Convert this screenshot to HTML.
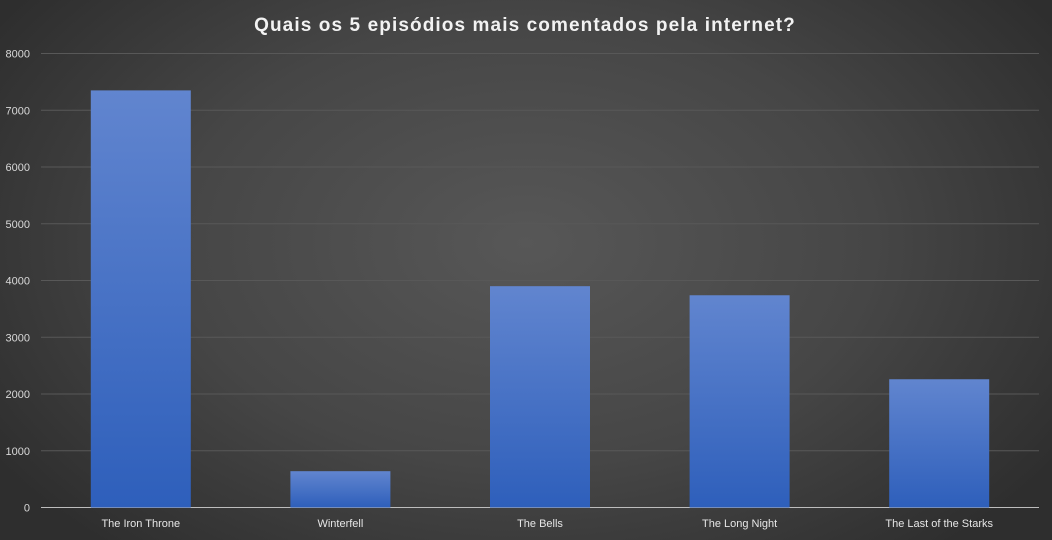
<!DOCTYPE html>
<html><head><meta charset="utf-8"><style>
html,body{margin:0;padding:0;background:#3a3a3a;}
#chart{width:1052px;height:540px;position:relative;overflow:hidden;
background:radial-gradient(ellipse 60% 75% at 50% 45%,#575757 0%,#464646 55%,#2e2e2e 100%);
font-family:"Liberation Sans",sans-serif;}
</style></head><body>
<div id="chart">
<svg id="svg" width="1052" height="540">
<defs><linearGradient id="bg" x1="0" y1="0" x2="0" y2="1">
<stop offset="0" stop-color="#6185cf"/><stop offset="1" stop-color="#2e5fbb"/></linearGradient></defs>
<text x="525" y="31" text-anchor="middle" fill="#f2f2f2" font-size="19" font-weight="bold" letter-spacing="1.1">Quais os 5 episódios mais comentados pela internet?</text>
<g id="grid"></g><g id="bars"></g><g id="labels"></g>
</svg></div>
<script>
const categories=["The Iron Throne","Winterfell","The Bells","The Long Night","The Last of the Starks"];
const values=[7350,640,3900,3740,2260];
const ticks=[0,1000,2000,3000,4000,5000,6000,7000,8000];
const ns="http://www.w3.org/2000/svg";
const L=41,R=1039,Y0=507.5,Y8=53.5,maxV=8000;
const y=v=>Y0-(Y0-Y8)*v/maxV;
const bw=(R-L)/categories.length;
const x=i=>L+bw*i;
function mk(t,a,p){const e=document.createElementNS(ns,t);for(const k in a)e.setAttribute(k,a[k]);p.appendChild(e);return e;}
const grid=document.getElementById('grid'),bars=document.getElementById('bars'),labels=document.getElementById('labels');
ticks.forEach(t=>{
 const ln=mk('line',{x1:L,x2:R,y1:y(t),y2:y(t),stroke:t===0?'#bdbdbd':'#585858','stroke-width':1},grid);
 
 
 const tx=mk('text',{x:30,y:y(t)+4,'text-anchor':'end',fill:'#d9d9d9','font-size':11},labels);
 tx.textContent=t;
 
 
});
categories.forEach((c,i)=>{
 const w=100,bx=x(i)+bw/2-w/2;
 const r=mk('rect',{x:bx,y:y(values[i]),width:w,height:Y0-y(values[i]),fill:'url(#bg)'},bars);
 
 
 const tx=mk('text',{x:x(i)+bw/2,y:527,'text-anchor':'middle',fill:'#e6e6e6','font-size':11},labels);
 tx.textContent=c;
 
 
});
</script>
</body></html>
